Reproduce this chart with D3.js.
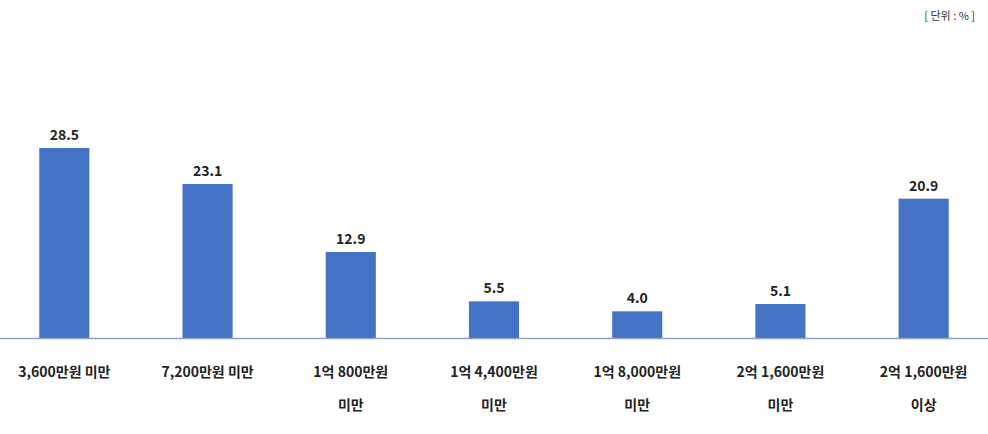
<!DOCTYPE html>
<html><head><meta charset="utf-8">
<script src="https://cdn.jsdelivr.net/npm/d3@7"></script>
<style>body{margin:0;background:#fff}</style></head>
<body><svg id="c" width="988" height="434"></svg>
<script>
const categories = [["3,600만원 미만"],["7,200만원 미만"],["1억 800만원","미만"],["1억 4,400만원","미만"],["1억 8,000만원","미만"],["2억 1,600만원","미만"],["2억 1,600만원","이상"]];
const values = [28.5,23.1,12.9,5.5,4.0,5.1,20.9];
const unitLabel = "[ 단위 : % ]";

const svg = d3.select("#c");
const font = "'Noto Sans CJK KR','Noto Sans',sans-serif";
const x = d3.scaleBand().domain(d3.range(values.length)).range([-8, 996]).paddingInner(0.65).paddingOuter(0.33);
const y = d3.scaleLinear().domain([0, 28.5]).range([338, 148]);

svg.selectAll("rect").data(values).join("rect")
  .attr("x",(d,i)=>x(i)).attr("width",x.bandwidth())
  .attr("y",d=>y(d)).attr("height",d=>y(0)-y(d)).attr("fill","#4472c4");

svg.append("line").attr("x1",0).attr("x2",988).attr("y1",y(0)+0.5).attr("y2",y(0)+0.5)
  .attr("stroke","#8ea1bd").attr("stroke-width",1.5);

svg.selectAll("text.v").data(values).join("text").attr("class","v")
  .attr("x",(d,i)=>x(i)+x.bandwidth()/2).attr("y",d=>y(d)-8)
  .attr("text-anchor","middle").attr("font-family",font).attr("font-weight","bold")
  .attr("font-size",14).attr("fill","#222").text(d=>d.toFixed(1));

const g = svg.selectAll("text.c").data(categories).join("text").attr("class","c")
  .attr("text-anchor","middle").attr("font-family",font).attr("font-weight","bold")
  .attr("font-size",14).attr("fill","#222");
g.selectAll("tspan").data((d,i)=>d.map(s=>({s,i}))).join("tspan")
  .attr("x",d=>x(d.i)+x.bandwidth()/2).attr("y",(d,j)=>377+j*33).text(d=>d.s);

svg.append("text").attr("x",975).attr("y",20).attr("text-anchor","end")
  .attr("font-family",font).attr("font-size",11).attr("fill","#333").text(unitLabel);
</script></body></html>
